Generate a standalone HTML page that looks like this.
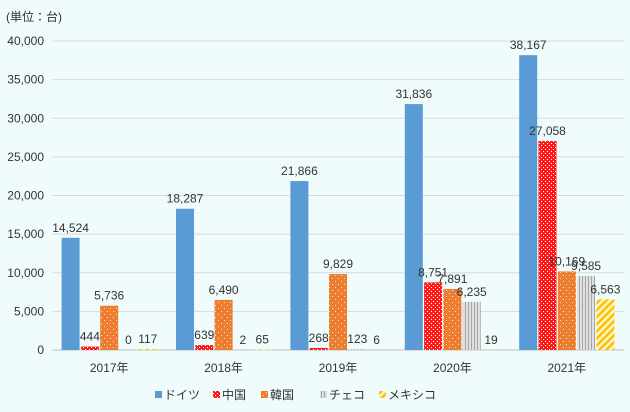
<!DOCTYPE html>
<html><head><meta charset="utf-8"><style>
body{margin:0;background:#f0fcfc;}
svg{display:block;font-family:"Liberation Sans","Noto Sans CJK JP",sans-serif;}
</style></head><body>
<svg id="c" width="630" height="412">
<defs>
<pattern id="pCN" width="4" height="4" patternUnits="userSpaceOnUse"><rect width="4" height="4" fill="#ff1a1a"/><rect x="1" y="1" width="1" height="1" fill="#fff"/><rect x="3" y="3" width="1" height="1" fill="#fff"/></pattern>
<pattern id="pKR" width="6" height="6" patternUnits="userSpaceOnUse"><rect width="6" height="6" fill="#ed7d31"/><rect x="2" y="2" width="1" height="1" fill="#fde0c8"/><rect x="5" y="5" width="1" height="1" fill="#fde0c8"/></pattern>
<pattern id="pCZ" width="3" height="3" patternUnits="userSpaceOnUse"><rect width="3" height="3" fill="#e0e0e0"/><rect x="0" width="1" height="3" fill="#a5a5a5"/></pattern>
<pattern id="pMX" width="5" height="5" patternUnits="userSpaceOnUse" patternTransform="rotate(45)"><rect width="5" height="5" fill="#fff6c8"/><rect width="2.5" height="5" fill="#ffc000"/></pattern>
</defs>
<text x="6" y="21" font-size="12" fill="#333">(単位：台)</text>
<g id="grid"></g><g id="bars"></g><g id="legend"></g>
</svg>
<script>
const categories=["2017年","2018年","2019年","2020年","2021年"];
const seriesNames=["ドイツ","中国","韓国","チェコ","メキシコ"];
const germany=[14524,18287,21866,31836,38167];
const china=[444,639,268,8751,27058];
const korea=[5736,6490,9829,7891,10169];
const czech=[0,2,123,6235,9585];
const mexico=[117,65,6,19,6563];
const yTicks=[0,5000,10000,15000,20000,25000,30000,35000,40000];
const fills=["#5b9bd5","url(#pCN)","url(#pKR)","url(#pCZ)","url(#pMX)"];
const series=[germany,china,korea,czech,mexico];
const NS="http://www.w3.org/2000/svg";
const x0=52,x1=624,yBase=350,yTop=41,yMax=40000;
const y=v=>yBase-(v/yMax)*(yBase-yTop);
const gw=(x1-x0)/categories.length;
const gx=i=>x0+gw*(i+0.5);
function mk(t,a,p){const e=document.createElementNS(NS,t);for(const k in a)e.setAttribute(k,a[k]);p.appendChild(e);return e;}
const grid=document.getElementById('grid'),bars=document.getElementById('bars'),leg=document.getElementById('legend');
yTicks.forEach(v=>{
 const l=mk('line',{x1:x0,x2:x1,y1:y(v),y2:y(v),stroke:v===0?'#bfbfbf':'#d9d9d9','stroke-width':1},grid);
 
 
 const t=mk('text',{x:44,y:y(v)+4,'text-anchor':'end','font-size':12,fill:'#333'},grid);
 t.textContent=v.toLocaleString('en-US');
 
 
});
const bw=18,step=19.3;
categories.forEach((c,i)=>{
 const t=mk('text',{x:gx(i),y:372,'text-anchor':'middle','font-size':12,fill:'#333'},grid);
 t.textContent=c;
 
 
 series.forEach((s,j)=>{
  const bx=gx(i)-2.5*step+j*step+0.65;
  const v=s[i];
  const r=mk('rect',{x:bx,y:y(v),width:bw,height:yBase-y(v),fill:fills[j]},bars);
  
  
  const lt=mk('text',{x:bx+bw/2,y:y(v)-6,'text-anchor':'middle','font-size':12,fill:'#333'},bars);
  lt.textContent=v.toLocaleString('en-US');
  
  
 });
});
const lx=[155,213,261,320,379];
seriesNames.forEach((n,j)=>{
 const r=mk('rect',{x:lx[j],y:391,width:7,height:7,fill:fills[j]},leg);
 
 
 const t=mk('text',{x:lx[j]+9,y:399,'font-size':12,fill:'#333'},leg);
 t.textContent=n;
 
 
});
</script>
</body></html>
